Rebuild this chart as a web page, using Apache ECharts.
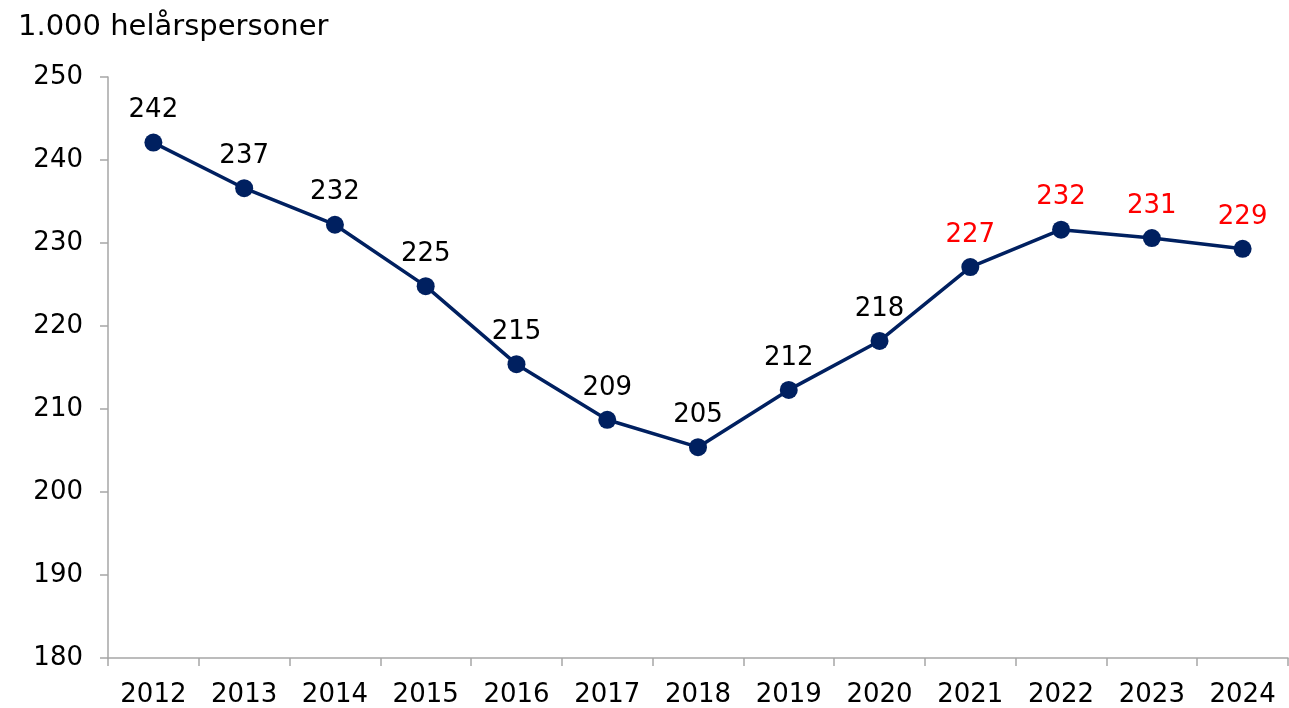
<!DOCTYPE html>
<html>
<head>
<meta charset="utf-8">
<script src="https://cdn.jsdelivr.net/npm/echarts@6/dist/echarts.min.js"></script>
<style>
  html, body { margin: 0; padding: 0; background: #fff; }
  #chart { width: 1289px; height: 708px; }
</style>
</head>
<body>
<div id="chart"></div>
<script>
const years = ['2012', '2013', '2014', '2015', '2016', '2017', '2018', '2019', '2020', '2021', '2022', '2023', '2024']
const values = [242.1, 236.6, 232.2, 224.8, 215.4, 208.7, 205.4, 212.3, 218.2, 227.1, 231.6, 230.6, 229.3]
// from 2021 the labels are red (forecast years)
const firstRedYear = '2021'

const FONT = 'DejaVu Sans, Verdana, sans-serif'
const chart = echarts.init(document.getElementById('chart'), null, {renderer: 'canvas'})

const redIdx = years.indexOf(firstRedYear)
const seriesData = values.map((v, i) => ({
    value: v,
    label: { color: i >= redIdx ? '#ff0000' : '#000000' }
}))

chart.setOption({
    animation: false,
    title: {
        text: '1.000 helårspersoner',
        left: 13,
        top: 8,
        textStyle: { fontFamily: FONT, fontSize: 29, fontWeight: 'normal', color: '#000' }
    },
    grid: {
        left: 108,
        right: 1,
        top: 77,
        bottom: 50
    },
    xAxis: {
        type: 'category',
        data: years,
        boundaryGap: true,
        axisLine: { lineStyle: { color: '#a6a6a6', width: 1.5 } },
        axisTick: { show: true, length: 8, lineStyle: { color: '#a6a6a6', width: 1.5 } },
        axisLabel: { fontFamily: FONT, fontSize: 26, color: '#000', margin: 24 }
    },
    yAxis: {
        type: 'value',
        min: 180,
        max: 250,
        interval: 10,
        splitLine: { show: false },
        axisLine: { show: true, lineStyle: { color: '#a6a6a6', width: 1.5 } },
        axisTick: { show: true, length: 8, lineStyle: { color: '#a6a6a6', width: 1.5 } },
        axisLabel: { fontFamily: FONT, fontSize: 26, color: '#000', margin: 25 }
    },
    series: [{
        type: 'line',
        data: seriesData,
        symbol: 'circle',
        symbolSize: 18,
        lineStyle: { color: '#002060', width: 3.5 },
        itemStyle: { color: '#002060' },
        label: {
            show: true,
            position: 'top',
            distance: 10,
            fontFamily: FONT,
            fontSize: 26,
            formatter: p => Math.round(p.value)
        }
    }]
})
</script>
</body>
</html>
